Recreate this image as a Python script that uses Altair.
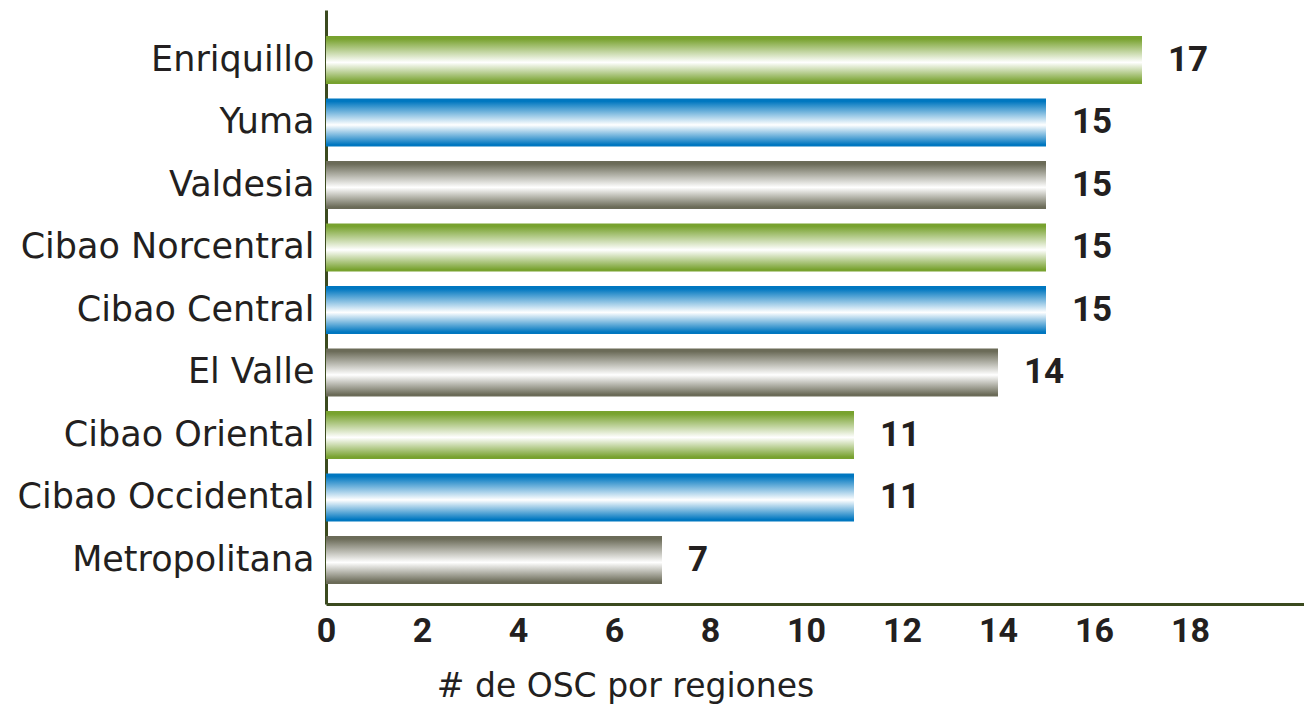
import altair as alt
import pandas as pd

regions = ["Enriquillo", "Yuma", "Valdesia", "Cibao Norcentral", "Cibao Central",
           "El Valle", "Cibao Oriental", "Cibao Occidental", "Metropolitana"]
counts = [17, 15, 15, 15, 15, 14, 11, 11, 7]
groups = ["green", "blue", "gray", "green", "blue", "gray", "green", "blue", "gray"]
tick_values = [0, 2, 4, 6, 8, 10, 12, 14, 16, 18]

df = pd.DataFrame({"region": regions, "count": counts, "group": groups})

edge = {"green": "#78a22f", "blue": "#0077c0", "gray": "#6b6b58"}

def grad(c):
    return alt.Gradient(
        gradient="linear",
        stops=[
            alt.GradientStop(color=c, offset=0),
            alt.GradientStop(color=c, offset=0.06),
            alt.GradientStop(color="#ffffff", offset=0.55),
            alt.GradientStop(color=c, offset=0.96),
            alt.GradientStop(color=c, offset=1),
        ],
        x1=0, x2=0, y1=0, y2=1,
    )

W = 978
PX_PER_UNIT = 48
xmax = W / PX_PER_UNIT

x_enc = alt.X(
    "count:Q",
    scale=alt.Scale(domain=[0, xmax], nice=False, zero=True),
    axis=alt.Axis(
        values=tick_values, title="# de OSC por regiones", grid=False, ticks=False,
        domainColor="#3b4a1f", domainWidth=3,
        labelFont="Roboto", labelFontWeight="bold", labelFontSize=34, labelColor="#231f20",
        labelPadding=10, labelFlush=False,
        titleFont="DejaVu Sans", titleFontWeight="normal", titleFontSize=33, titleColor="#231f20",
        titlePadding=22, titleAlign="center", titleAnchor="start", titleX=299,
    ),
)
y_enc = alt.Y(
    "region:N", sort=regions,
    scale=alt.Scale(paddingInner=0.232, paddingOuter=0.368, align=0.565),
    axis=alt.Axis(
        title=None, ticks=False, domainColor="#3b4a1f", domainWidth=3,
        labelFont="DejaVu Sans", labelFontSize=35, labelColor="#231f20", labelPadding=12,
        labelLimit=400,
    ),
)

base = alt.Chart(df)
layers = []
for g in ["green", "blue", "gray"]:
    layers.append(
        base.transform_filter(alt.datum.group == g)
        .mark_bar(color=grad(edge[g]))
        .encode(x=x_enc, y=y_enc)
    )

text = base.mark_text(
    align="left", baseline="middle", dx=26, font="Roboto", fontWeight="bold",
    fontSize=35, color="#231f20",
).encode(x=x_enc, y=y_enc, text="count:Q")

chart = alt.layer(*layers, text).properties(
    width=W, height=594,
    autosize=alt.AutoSizeParams(type="none"),
    padding={"left": 318, "top": 2, "right": 0, "bottom": 104},
).configure_view(stroke=None)

chart.save("out.html", embed_options={"renderer": "svg", "actions": False})
